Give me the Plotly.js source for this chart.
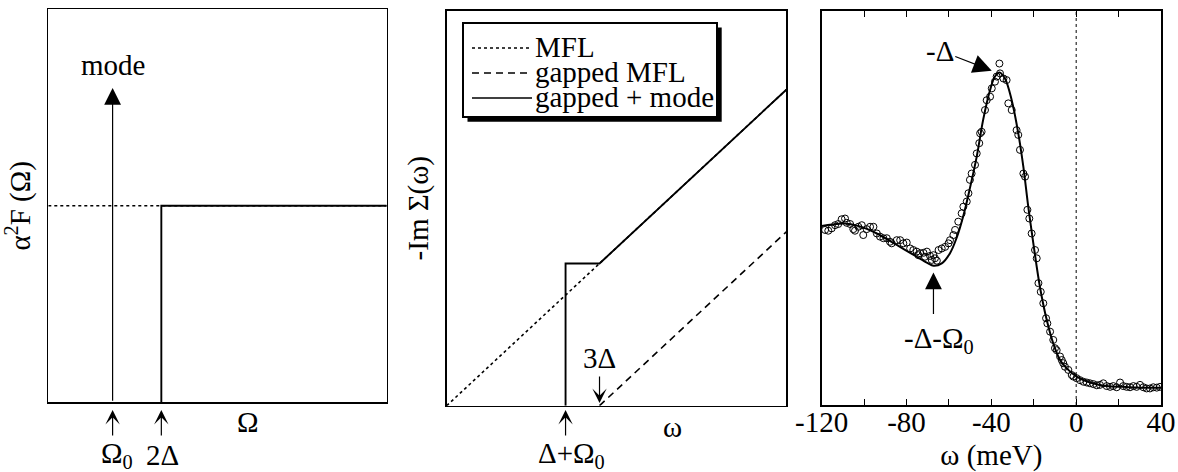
<!DOCTYPE html>
<html>
<head>
<meta charset="utf-8">
<script src="https://cdn.plot.ly/plotly-3.0.1.min.js"></script>
<style>html,body{margin:0;padding:0;background:#fff;}#chart{width:1178px;height:472px;}</style>
</head>
<body>
<div id="chart"></div>
<script>
// ---------- Panel (a): alpha^2 F(Omega) schematic ----------
const aOmega0 = 1.9;          // mode position Ω0
const aTwoDelta = 3.34;       // gap edge 2Δ
const aMflX = [0, 10];
const aMflY = [5, 5];
const aGapX = [3.34, 3.34, 10];
const aGapY = [0, 5, 5];
const aModeX = [1.9, 1.9];
const aModeY = [0, 8];

// ---------- Panel (b): -Im Σ(ω) schematic ----------
const bDeltaPlusOmega0 = 3.5;
const bThreeDelta = 4.5;
const bMflX = [0, 10];
const bMflY = [0, 8];
const bGapMflX = [4.5, 10];
const bGapMflY = [0, 4.4];
const bGapModeX = [3.5, 3.5, 4.5, 10];
const bGapModeY = [0, 3.6, 3.6, 8];
const legendNames = ['MFL', 'gapped MFL', 'gapped + mode'];

// ---------- Panel (c): ARPES data (ω in meV, arbitrary intensity) ----------
const cDataX = [-118.4,-116.9,-115.3,-113.7,-112.2,-110.6,-109.0,-108.2,-106.6,-105.1,-104.3,-102.7,-101.1,-100.4,-98.8,-97.2,-95.6,-94.0,-92.5,-90.9,-89.3,-87.8,-87.0,-84.6,-83.0,-81.5,-79.9,-78.3,-76.8,-75.2,-74.4,-73.6,-72.0,-71.3,-70.4,-68.9,-68.1,-67.3,-66.6,-65.7,-64.9,-63.4,-61.8,-60.2,-59.5,-57.9,-57.1,-55.6,-54.0,-53.2,-51.6,-50.8,-50.1,-49.3,-47.7,-46.9,-45.7,-45.3,-44.6,-43.0,-42.2,-40.6,-39.8,-38.3,-37.5,-36.2,-35.9,-34.3,-32.8,-32.0,-30.4,-28.1,-27.3,-26.5,-24.9,-24.1,-23.0,-22.1,-21.0,-19.4,-18.6,-17.8,-16.7,-15.5,-14.2,-13.6,-12.3,-10.8,-10.0,-9.2,-7.6,-6.8,-6.1,-5.3,-3.7,-2.1,-1.3,0.2,1.8,3.4,5.0,6.5,8.1,9.7,11.2,12.8,14.4,16.0,17.5,19.1,20.7,22.2,23.8,25.4,27.0,28.5,30.1,31.7,33.2,34.8,36.4,38.0,39.5];
const cDataY = [44.4,44.2,44.8,45.6,45.9,47.1,47.3,46.2,45.9,44.6,44.2,45.2,45.6,43.1,44.6,45.2,45.2,43.5,42.7,42.3,42.3,41.4,41.0,41.8,41.8,41.0,41.2,39.7,39.3,38.9,38.0,38.5,38.6,37.6,38.9,37.8,36.8,38.0,37.2,36.6,39.3,39.7,40.1,41.0,41.8,43.1,44.4,46.5,48.6,50.3,51.6,53.7,57.1,58.7,60.9,63.8,66.4,68.9,69.3,74.8,77.3,78.2,80.3,82.0,83.3,86.6,84.1,82.8,82.4,76.5,74.8,69.7,68.5,64.7,58.7,57.9,49.5,47.3,43.5,39.3,37.2,30.9,28.7,25.8,22.0,20.7,18.6,16.5,14.4,13.9,12.3,11.4,10.6,9.7,8.9,7.6,7.2,6.8,6.3,5.9,5.7,5.5,5.3,5.0,5.1,5.5,4.8,4.6,4.8,4.5,5.7,4.8,4.6,4.5,4.8,4.6,5.1,4.5,4.2,4.2,4.5,4.4,4.6];
const cFitX = [-120,-115,-109,-102,-94,-84.6,-75.2,-70,-67.3,-63.4,-59.5,-56.3,-53.2,-50.1,-46.9,-43.8,-40.6,-38.3,-36.2,-33.6,-30.4,-27.3,-24.9,-22.6,-20.2,-17.1,-13.9,-10.8,-7.6,-3.7,0.2,6.5,14.4,22.2,30.1,40];
const cFitY = [45.4,45.8,46.0,45.3,43.5,40.6,37.6,36.0,35.3,35.9,38.5,42.5,48.0,55.0,63.0,72.5,79.9,83.3,84.3,82.8,77.3,68.9,60.4,50.3,41.0,30.0,21.6,15.6,11.4,8.9,7.2,5.7,4.8,4.6,4.4,4.4];
const cTickVals = [-120,-100,-80,-60,-40,-20,0,20,40];
const cTickText = ['-120','','-80','','-40','','0','','40'];
const cDeltaPeak = [-39.8, 84.8];       // arrow tip for -Δ
const cDeltaOmegaDip = [-67.3, 33.6];   // arrow tip for -Δ-Ω0

// ---------- helpers / styles ----------
const W = 1178, H = 472;
const PX = x => x / W;
const PY = y => 1 - y / H;
const FONT = 'Liberation Serif, Times New Roman, serif';
const FS = 29;
const styleDot = {color: '#000', width: 1.6, dash: 'dot'};
const styleDash = {color: '#000', width: 1.6, dash: '7px,5px'};
const styleSolid = {color: '#000', width: 1.9};

const traces = [
  {x: aMflX, y: aMflY, xaxis: 'x', yaxis: 'y', mode: 'lines', line: styleDot, showlegend: false, name: 'MFL'},
  {x: aGapX, y: aGapY, xaxis: 'x', yaxis: 'y', mode: 'lines', line: styleSolid, showlegend: false, name: 'gapped'},
  {x: bMflX, y: bMflY, xaxis: 'x2', yaxis: 'y2', mode: 'lines', line: styleDot, showlegend: false, name: legendNames[0]},
  {x: bGapMflX, y: bGapMflY, xaxis: 'x2', yaxis: 'y2', mode: 'lines', line: styleDash, showlegend: false, name: legendNames[1]},
  {x: bGapModeX, y: bGapModeY, xaxis: 'x2', yaxis: 'y2', mode: 'lines', line: styleSolid, showlegend: false, name: legendNames[2]},
  {x: [0, 0], y: [0, 100], xaxis: 'x3', yaxis: 'y3', mode: 'lines', line: {color: '#000', width: 1, dash: 'dot'}, showlegend: false},
  {x: cDataX, y: cDataY, xaxis: 'x3', yaxis: 'y3', mode: 'markers', marker: {symbol: 'circle-open', size: 7, color: '#000', line: {width: 1, color: '#000'}}, showlegend: false, name: 'data'},
  {x: cFitX, y: cFitY, xaxis: 'x3', yaxis: 'y3', mode: 'lines', line: {color: '#000', width: 2, shape: 'spline', smoothing: 1}, showlegend: false, name: 'fit'}
];

const baseAxis = {showline: true, mirror: true, linecolor: '#000', linewidth: 1.5, showgrid: false, zeroline: false, ticks: '', showticklabels: false, fixedrange: true, automargin: false};

const layout = {
  width: W, height: H,
  margin: {l: 0, r: 0, t: 0, b: 0},
  paper_bgcolor: '#fff', plot_bgcolor: '#fff',
  font: {family: FONT, size: FS, color: '#000'},
  showlegend: false,
  xaxis: Object.assign({}, baseAxis, {domain: [PX(48.3), PX(386.7)], range: [0, 10], anchor: 'y'}),
  yaxis: Object.assign({}, baseAxis, {domain: [PY(402.3), PY(9.3)], range: [0, 10], anchor: 'x',
    title: {text: 'α<sup>2</sup>F (Ω)', font: {family: FONT, size: FS}, standoff: 10}}),
  xaxis2: Object.assign({}, baseAxis, {domain: [PX(446.7), PX(786.3)], range: [0, 10], anchor: 'y2'}),
  yaxis2: Object.assign({}, baseAxis, {domain: [PY(405.7), PY(10.7)], range: [0, 10], anchor: 'x2',
    title: {text: '-Im Σ(ω)', font: {family: FONT, size: FS}, standoff: 8}}),
  xaxis3: Object.assign({}, baseAxis, {domain: [PX(821.7), PX(1161)], range: [-120, 40], anchor: 'y3',
    ticks: 'inside', ticklen: 6, tickwidth: 1, tickcolor: '#000', mirror: 'ticks',
    showticklabels: true, tickmode: 'array', tickvals: cTickVals, ticktext: cTickText,
    tickfont: {family: FONT, size: FS}, ticklabelstandoff: -9,
    title: {text: 'ω (meV)', font: {family: FONT, size: FS}, standoff: 12}}),
  yaxis3: Object.assign({}, baseAxis, {domain: [PY(405), PY(10.7)], range: [0, 100], anchor: 'x3'}),
  shapes: [],
  annotations: []
};

// Legend for panel (b), drawn as a framed box with drop shadow
layout.shapes.push({type: 'rect', xref: 'paper', yref: 'paper', x0: PX(467.5), x1: PX(721.7), y0: PY(121.7), y1: PY(27.5), fillcolor: '#000', line: {width: 0}});
layout.shapes.push({type: 'rect', xref: 'paper', yref: 'paper', x0: PX(463), x1: PX(717), y0: PY(117), y1: PY(23), fillcolor: '#fff', line: {color: '#000', width: 2}});
const legRows = [47, 72, 97];
const legStyles = [styleDot, styleDash, styleSolid];
legendNames.forEach((nm, i) => {
  const st = legStyles[i];
  layout.shapes.push({type: 'line', xref: 'paper', yref: 'paper', x0: PX(472), x1: PX(532), y0: PY(legRows[i] + 1), y1: PY(legRows[i] + 1), line: {color: st.color, width: 1.4, dash: st.dash}});
  layout.annotations.push({xref: 'paper', yref: 'paper', x: PX(533), y: PY(legRows[i]), xanchor: 'left', yanchor: 'middle', text: nm, showarrow: false, font: {family: FONT, size: FS}});
});

const A = layout.annotations;
const label = (xref, x, py, text, extra) => Object.assign({xref: xref, yref: 'paper', x: x, y: PY(py), xanchor: 'center', yanchor: 'middle', text: text, showarrow: false, font: {family: FONT, size: FS}}, extra || {});
const bigHead = {arrowhead: 2, arrowsize: 2.8, arrowwidth: 1.2, arrowcolor: '#000'};
const smallHead = {arrowhead: 3, arrowsize: 2.0, arrowwidth: 1.2, arrowcolor: '#000'};
// Panel (a)
A.push(Object.assign({xref: 'x', yref: 'y', x: aModeX[1], y: aModeY[1], axref: 'x', ayref: 'y', ax: aModeX[0], ay: aModeY[0], text: '', showarrow: true}, bigHead));
A.push(label('x', aOmega0, 65, 'mode'));
A.push(Object.assign({xref: 'x', yref: 'paper', x: aOmega0, y: PY(410), ax: 0, ay: 27, text: '', showarrow: true}, smallHead));
A.push(Object.assign({xref: 'x', yref: 'paper', x: aTwoDelta, y: PY(410), ax: 0, ay: 27, text: '', showarrow: true}, smallHead));
A.push(label('x', aOmega0, 455, 'Ω<sub>0</sub>', {xshift: 4}));
A.push(label('x', aTwoDelta, 455, '2Δ', {xshift: 1}));
A.push(label('paper', PX(248), 422, 'Ω'));
// Panel (b)
A.push(Object.assign({xref: 'x2', yref: 'paper', x: bDeltaPlusOmega0, y: PY(410), ax: 0, ay: 27, text: '', showarrow: true}, smallHead));
A.push(label('x2', bDeltaPlusOmega0, 455, 'Δ+Ω<sub>0</sub>', {xshift: 6}));
A.push(Object.assign({xref: 'x2', yref: 'paper', x: bThreeDelta, y: PY(403), ax: 0, ay: -28, text: '', showarrow: true}, smallHead));
A.push(label('x2', bThreeDelta, 358, '3Δ'));
A.push(label('paper', PX(672), 427, 'ω'));
// Panel (c)
A.push(Object.assign({xref: 'x3', yref: 'y3', x: cDeltaPeak[0], y: cDeltaPeak[1], ax: -52, ay: -20, text: '-Δ', showarrow: true, standoff: 0, font: {family: FONT, size: FS}}, bigHead, {arrowwidth: 1.1, arrowsize: 3.4}));
A.push(Object.assign({xref: 'x3', yref: 'y3', x: cDeltaOmegaDip[0], y: cDeltaOmegaDip[1], ax: 0, ay: 43, text: '', showarrow: true}, bigHead));
A.push(label('x3', cDeltaOmegaDip[0], 340, '-Δ-Ω<sub>0</sub>', {xshift: 6}));

Plotly.newPlot('chart', traces, layout, {displayModeBar: false, staticPlot: true});
</script>
</body>
</html>
